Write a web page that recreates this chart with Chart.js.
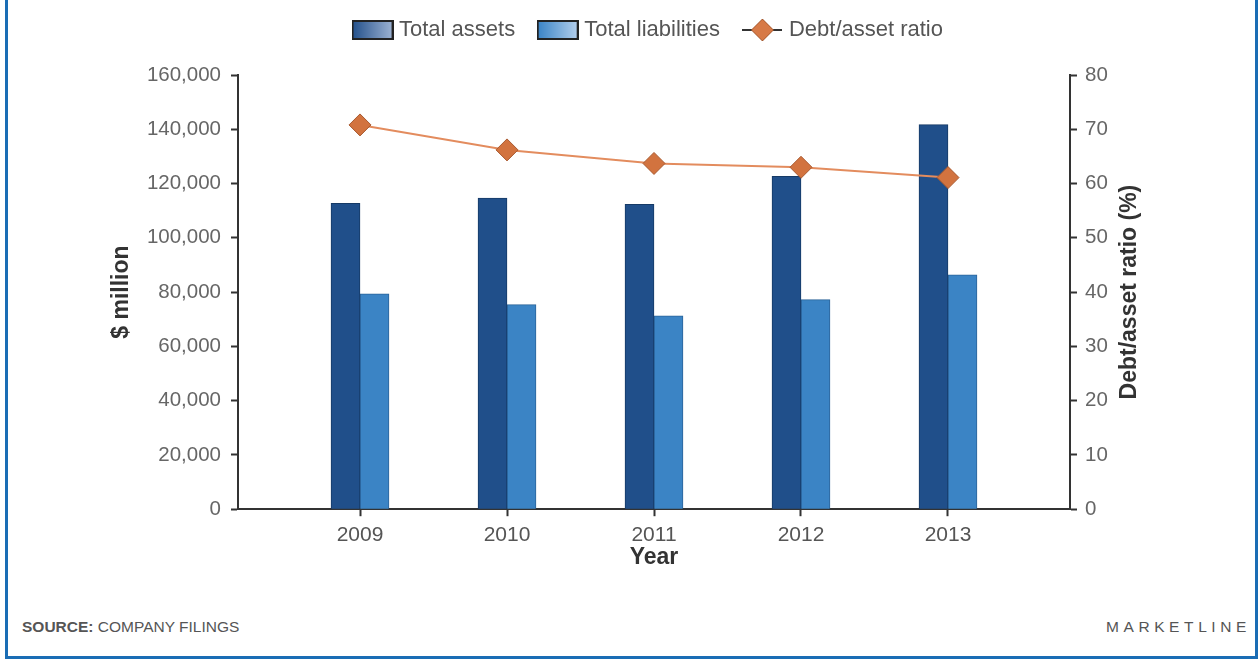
<!DOCTYPE html>
<html>
<head>
<meta charset="utf-8">
<script src="https://cdn.jsdelivr.net/npm/chart.js@4"></script>
<style>
  body { margin: 0; background: #fff; font-family: "Liberation Sans", Arial, sans-serif; }
  #wrap { position: relative; width: 1260px; height: 659px; overflow: hidden; }
  #frame { position: absolute; left: 5px; top: -5px; width: 1253px; height: 664px;
           box-sizing: border-box; border: 3px solid #1a6db5; }
  #chart { position: absolute; left: 0; top: 0; }
  .foot { position: absolute; top: 618px; font-size: 15.5px; color: #555; }
  #source { left: 22px; }
  #brand { right: 9px; letter-spacing: 4.6px; }
</style>
</head>
<body>
<div id="wrap">
  <div id="frame"></div>
  <canvas id="chart" width="1260" height="600"></canvas>
  <div class="foot" id="source"><b>SOURCE:</b> COMPANY FILINGS</div>
  <div class="foot" id="brand">MARKETLINE</div>
</div>
<script>
var years = [2009, 2010, 2011, 2012, 2013];
var totalAssets = [112700, 114600, 112300, 122700, 141700];
var totalLiabilities = [79400, 75400, 71300, 77200, 86400];
var debtRatio = [70.8, 66.2, 63.7, 63.0, 61.1];
var leftTicks = [0, 20000, 40000, 60000, 80000, 100000, 120000, 140000, 160000];
var rightTicks = [0, 10, 20, 30, 40, 50, 60, 70, 80];

var FONT = '"Liberation Sans", Arial, sans-serif';

// legend swatches
function boxSwatch(c1, c2) {
    var c = document.createElement('canvas');
    c.width = 42; c.height = 20;
    var g = c.getContext('2d');
    var grad = g.createLinearGradient(1, 0, 41, 0);
    grad.addColorStop(0, c1);
    grad.addColorStop(1, c2);
    g.fillStyle = grad;
    g.fillRect(1, 1, 40, 18);
    g.strokeStyle = '#222';
    g.lineWidth = 2;
    g.strokeRect(1, 1, 40, 18);
    return c;
}
function lineSwatch() {
    var c = document.createElement('canvas');
    c.width = 40; c.height = 24;
    var g = c.getContext('2d');
    g.strokeStyle = '#333';
    g.lineWidth = 2;
    g.beginPath(); g.moveTo(0, 12); g.lineTo(40, 12); g.stroke();
    g.beginPath();
    g.moveTo(20, 1); g.lineTo(31, 12); g.lineTo(20, 23); g.lineTo(9, 12); g.closePath();
    g.fillStyle = '#d77a47';
    g.fill();
    g.strokeStyle = '#a65a31';
    g.lineWidth = 1;
    g.stroke();
    return c;
}

var legendItems = [
    { text: 'Total assets', pointStyle: boxSwatch('#24518c', '#9db3d3') },
    { text: 'Total liabilities', pointStyle: boxSwatch('#3a84c6', '#b3cfec') },
    { text: 'Debt/asset ratio', pointStyle: lineSwatch() }
];

// leave room between legend and plot
var legendGap = {
    id: 'legendGap',
    beforeInit: function(chart) {
        var fit = chart.legend.fit;
        chart.legend.fit = function() {
            fit.bind(chart.legend)();
            this.height = 83;
        };
    }
};

// right axis title reads bottom-to-top like the left one
var rightTitle = {
    id: 'rightTitle',
    afterDraw: function(chart) {
        var ctx = chart.ctx, a = chart.chartArea;
        ctx.save();
        ctx.translate(1130, (a.top + a.bottom) / 2);
        ctx.rotate(-Math.PI / 2);
        ctx.font = 'bold 23px ' + FONT;
        ctx.fillStyle = '#333';
        ctx.textAlign = 'center';
        ctx.textBaseline = 'middle';
        ctx.fillText('Debt/asset ratio (%)', 0, 0);
        ctx.restore();
    }
};

var ctx = document.getElementById('chart');
var chart = new Chart(ctx, {
    type: 'bar',
    data: {
        labels: years,
        datasets: [{
            type: 'line',
            label: 'Debt/asset ratio',
            data: debtRatio,
            yAxisID: 'yRight',
            borderColor: '#e38c5e',
            borderWidth: 2,
            pointStyle: 'rectRot',
            pointRadius: 11,
            pointBackgroundColor: '#d2733f',
            pointBorderColor: '#a8592f',
            pointBorderWidth: 1,
            tension: 0,
            order: 0
        }, {
            label: 'Total assets',
            data: totalAssets,
            yAxisID: 'yLeft',
            backgroundColor: '#204f8a',
            borderColor: '#163a66',
            borderWidth: 1,
            barThickness: 29,
            order: 1
        }, {
            label: 'Total liabilities',
            data: totalLiabilities,
            yAxisID: 'yLeft',
            backgroundColor: '#3b84c5',
            borderColor: '#2b6399',
            borderWidth: 1,
            barThickness: 29,
            order: 2
        }]
    },
    options: {
        responsive: false,
        animation: false,
        layout: { padding: { left: 40, right: 0, top: -8, bottom: 29 } },
        plugins: {
            tooltip: { enabled: false },
            legend: {
                position: 'top',
                labels: {
                    usePointStyle: true,
                    pointStyleWidth: 31,
                    font: { family: FONT, size: 22 },
                    color: '#555',
                    padding: 27,
                    generateLabels: function() {
                        return legendItems.map(function(it, i) {
                            return { text: it.text, pointStyle: it.pointStyle, fontColor: '#555',
                                     lineWidth: 0, strokeStyle: 'transparent', fillStyle: 'transparent', datasetIndex: i };
                        });
                    }
                }
            }
        },
        scales: {
            x: {
                type: 'linear',
                offset: false,
                min: 2008.17,
                max: 2013.83,
                afterBuildTicks: function(axis) {
                    axis.ticks = years.map(function(y) { return { value: y }; });
                },
                ticks: {
                    callback: function(v) { return String(v); },
                    color: '#555',
                    font: { family: FONT, size: 21 },
                    padding: 6
                },
                grid: { offset: false, drawOnChartArea: false, tickLength: 7, tickColor: '#333', tickWidth: 2 },
                border: { color: '#333', width: 2 },
                title: {
                    display: true, text: 'Year', color: '#333', padding: { top: -10, bottom: 0 },
                    font: { family: FONT, size: 23, weight: 'bold' }
                }
            },
            yLeft: {
                position: 'left',
                min: 0, max: 160000,
                afterBuildTicks: function(axis) {
                    axis.ticks = leftTicks.map(function(v) { return { value: v }; });
                },
                ticks: {
                    color: '#666',
                    font: { family: FONT, size: 20.5 },
                    padding: 10
                },
                grid: { drawOnChartArea: false, tickLength: 7, tickColor: '#333', tickWidth: 2 },
                border: { color: '#333', width: 2 },
                title: {
                    display: true, text: '$ million', color: '#333', padding: { top: 68, bottom: 0 },
                    font: { family: FONT, size: 23, weight: 'bold' }
                },
                afterFit: function(axis) { axis.width = 198; }
            },
            yRight: {
                position: 'right',
                min: 0, max: 80,
                afterBuildTicks: function(axis) {
                    axis.ticks = rightTicks.map(function(v) { return { value: v }; });
                },
                ticks: {
                    color: '#666',
                    font: { family: FONT, size: 20.5 },
                    padding: 8
                },
                grid: { drawOnChartArea: false, tickLength: 7, tickColor: '#333', tickWidth: 2 },
                border: { color: '#333', width: 2 },
                afterFit: function(axis) { axis.width = 190; }
            }
        }
    },
    plugins: [legendGap, rightTitle]
});
</script>
</body>
</html>
